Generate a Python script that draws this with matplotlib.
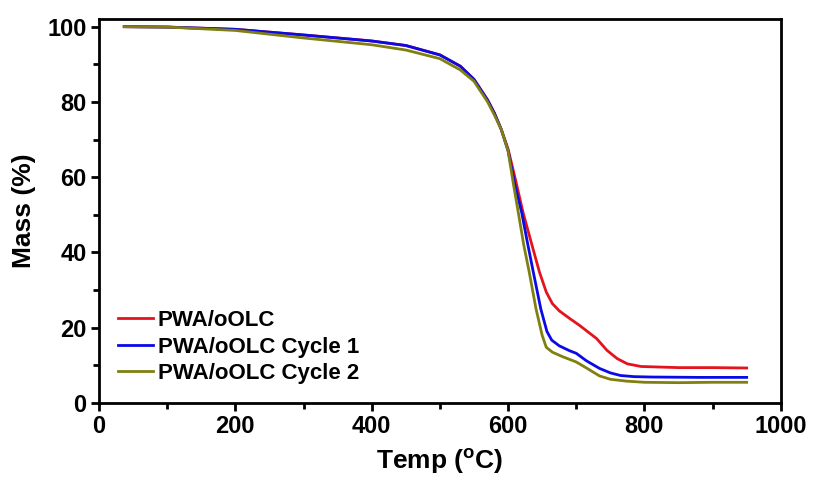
import matplotlib.pyplot as plt
import numpy as np

plt.rcParams['font.family'] = ['Liberation Sans', 'DejaVu Sans']
plt.rcParams['font.weight'] = 'bold'

# values (temperature in degC, mass in %)
temp_pwa = [37, 100, 200, 300, 400, 450, 500, 530, 550, 570, 580, 590, 600, 610,
            622, 635, 646, 656, 665, 675, 690, 705, 715, 730, 745, 760, 775, 795,
            850, 900, 950]
mass_pwa = [100, 99.9, 99.3, 97.8, 96.2, 95.0, 92.5, 89.5, 86.0, 80.5, 77.0, 72.7,
            67.5, 60.0, 50.6, 42.0, 34.8, 29.5, 26.4, 24.5, 22.5, 20.6, 19.2,
            17.1, 14.0, 11.8, 10.4, 9.7, 9.4, 9.4, 9.3]

temp_cyc1 = [37, 100, 200, 300, 400, 450, 500, 530, 550, 570, 580, 590, 600, 610,
             620, 628, 637, 648, 657, 664, 675, 690, 700, 715, 734, 750, 765, 785,
             810, 880, 950]
mass_cyc1 = [100, 99.9, 99.3, 97.8, 96.2, 95.0, 92.5, 89.5, 86.0, 80.5, 77.0, 72.7,
             67.0, 58.0, 50.6, 43.0, 34.8, 25.0, 19.0, 16.7, 15.2, 13.9, 13.2,
             11.2, 9.2, 8.0, 7.3, 7.0, 6.9, 6.8, 6.8]

temp_cyc2 = [37, 100, 200, 300, 400, 450, 500, 530, 550, 570, 580, 590, 600, 608,
             615, 623, 631, 641, 650, 656, 665, 680, 700, 715, 734, 750, 774, 800,
             850, 900, 950]
mass_cyc2 = [100, 99.9, 99.0, 97.0, 95.2, 93.8, 91.5, 88.5, 85.5, 80.0, 76.5, 72.7,
             67.0, 58.0, 50.6, 42.0, 34.8, 25.0, 18.0, 14.8, 13.5, 12.3, 10.9,
             9.3, 7.2, 6.3, 5.8, 5.5, 5.4, 5.5, 5.5]

labels = ['PWA/oOLC', 'PWA/oOLC Cycle 1', 'PWA/oOLC Cycle 2']
colors = ['#E3141E', '#0A0AE6', '#808010']

fig = plt.figure(figsize=(8.15, 4.79), dpi=100)
ax = fig.add_axes([0.1215, 0.1587, 0.8365, 0.8013])

series = [(temp_pwa, mass_pwa), (temp_cyc1, mass_cyc1), (temp_cyc2, mass_cyc2)]
for (x, y), lab, c in zip(series, labels, colors):
    ax.plot(x, y, color=c, lw=2, label=lab)

ax.set_xlim(0, 1000)
ax.set_ylim(0, 102)
ax.set_xticks(np.arange(0, 1001, 200))
ax.set_xticks(np.arange(100, 1000, 200), minor=True)
ax.set_yticks(np.arange(0, 101, 20))
ax.set_yticks(np.arange(10, 100, 20), minor=True)

for s in ax.spines.values():
    s.set_linewidth(2)
ax.tick_params(which='major', direction='out', length=6, width=2, labelsize=17, pad=3)
ax.tick_params(which='minor', direction='out', length=4, width=2)

ax.set_xlabel('Temp ($\\mathregular{^o}$C)', fontsize=19, fontweight='bold', labelpad=6)
ax.set_ylabel('Mass (%)', fontsize=19, fontweight='bold', labelpad=8)

ax.legend(loc='lower left', frameon=False, fontsize=16, handlelength=1.6,
          handletextpad=0.2, labelspacing=0.25, borderaxespad=0.45)

fig.savefig('out.png', dpi=100)
